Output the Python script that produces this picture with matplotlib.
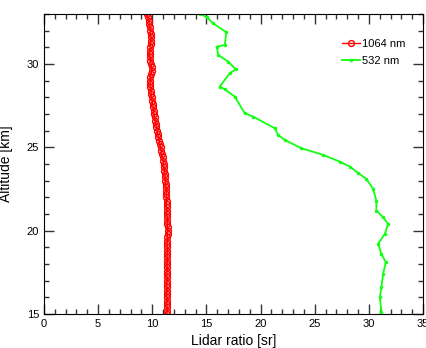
import numpy as np
import matplotlib
matplotlib.use("Agg")
import matplotlib.pyplot as plt
from matplotlib.ticker import MultipleLocator

plt.rcParams['font.family'] = ['Liberation Sans', 'DejaVu Sans']

# 1064 nm lidar ratio, altitude step 0.2 km from 15 to 33 km
alt_1064 = np.round(np.arange(15.0, 33.01, 0.2), 1)
lr_1064 = [11.35, 11.36, 11.35, 11.36, 11.35, 11.34, 11.35, 11.36, 11.35, 11.36,
           11.37, 11.36, 11.35, 11.36, 11.37, 11.38, 11.37, 11.36, 11.37, 11.38,
           11.38, 11.37, 11.38, 11.40, 11.41, 11.42, 11.41, 11.40, 11.39, 11.38,
           11.35, 11.33, 11.32, 11.32, 11.31, 11.30, 11.29, 11.28, 11.26, 11.24,
           11.21, 11.18, 11.15, 11.12, 11.08, 11.04, 11.00, 10.94, 10.88, 10.82,
           10.76, 10.70, 10.64, 10.57, 10.50, 10.44, 10.38, 10.33, 10.28, 10.22,
           10.17, 10.12, 10.07, 10.02, 9.98, 9.95, 9.90, 9.86, 9.82, 9.79,
           9.80, 9.83, 9.90, 9.97, 9.94, 9.88, 9.83, 9.79, 9.76, 9.78,
           9.83, 9.86, 9.88, 9.88, 9.85, 9.82, 9.79, 9.73, 9.66, 9.58,
           9.55]

# 532 nm lidar ratio
alt_532 = [33.0, 32.8, 32.44, 31.9, 31.14, 31.04, 30.54, 30.14, 29.68, 29.44,
           28.64, 28.48, 28.04, 27.04, 26.84, 26.14, 25.74, 25.44, 24.94, 24.54,
           24.14, 23.84, 23.46, 23.10, 22.50, 21.80, 21.20, 20.80, 20.40, 19.80,
           19.20, 18.60, 18.10, 17.40, 16.60, 16.00, 15.10, 15.0]
lr_532 = [14.4, 15.05, 15.6, 16.83, 16.69, 15.97, 16.07, 16.99, 17.70, 17.15,
          16.22, 16.69, 17.61, 18.53, 19.30, 21.30, 21.61, 22.23, 23.76, 25.76,
          27.30, 28.23, 28.99, 29.76, 30.38, 30.68, 30.68, 31.30, 31.76, 31.46,
          30.84, 31.15, 31.55, 31.30, 31.15, 31.00, 31.15, 31.1]

fig = plt.figure(figsize=(4.27, 3.48), dpi=100)
ax = fig.add_axes([0.103, 0.098, 0.888, 0.862])

ax.plot(lr_1064, alt_1064, color='red', lw=1, marker='o', ms=4.2,
        mfc='none', mec='red', mew=1, label='1064 nm')
ax.plot(lr_532, alt_532, color='#11ff11', lw=1.3, marker='.', ms=3,
        label='532 nm')

ax.set_xlim(0, 35)
ax.set_ylim(15, 33)
ax.xaxis.set_major_locator(MultipleLocator(5))
ax.xaxis.set_minor_locator(MultipleLocator(1))
ax.yaxis.set_major_locator(MultipleLocator(5))
ax.yaxis.set_minor_locator(MultipleLocator(1))
ax.tick_params(which='both', direction='in', top=True, right=True,
               labelsize=8, color='#333333')
ax.tick_params(which='major', length=7, width=1)
ax.tick_params(which='minor', length=3.5, width=1)
ax.tick_params(axis='x', pad=4)

ax.set_xlabel('Lidar ratio [sr]', fontsize=10, labelpad=3)
ax.set_ylabel('Altitude [km]', fontsize=10, labelpad=10)

ax.legend(loc='upper right', bbox_to_anchor=(0.98, 0.95), frameon=False,
          fontsize=8, handlelength=1.6, handletextpad=0.2, labelspacing=0.6)

fig.savefig('out.png', dpi=100)
